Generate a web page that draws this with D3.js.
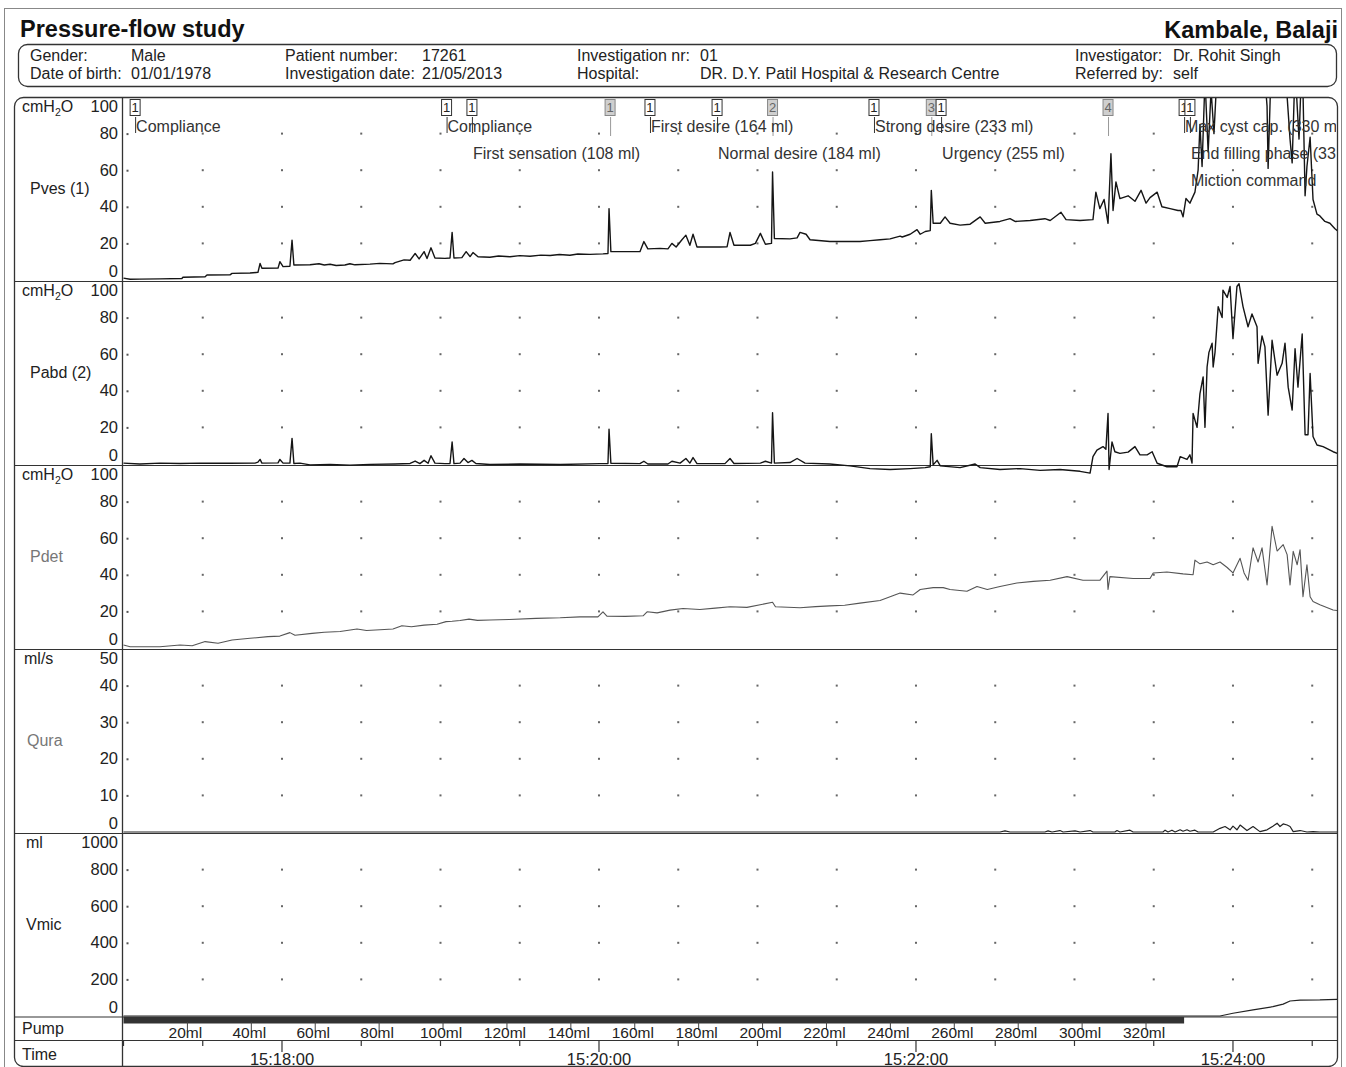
<!DOCTYPE html>
<html><head><meta charset="utf-8">
<script src="https://cdn.jsdelivr.net/npm/d3@7"></script>
<style>
body{margin:0;background:#fff}
svg{display:block}
text{font-family:"Liberation Sans",Arial,Helvetica,sans-serif}
</style>
</head><body>
<svg id="c" width="1346" height="1067"></svg>
<script>
// ---------------- DATA (time in seconds after 15:17:00) ----------------
const pvesData = [[0,1],[2.5,0.4],[6.2,0.5],[13.8,0.6],[22.1,0.8],[22.5,1.5],[30.9,1.8],[31.6,2.7],[40.3,2.8],[41.1,3.6],[47.9,3.8],[50.9,4.2],[51.7,9],[52.4,6.4],[58.5,6.5],[59.2,10],[60.4,7.3],[63.0,7.5],[63.8,21.8],[64.5,8.2],[70.6,8.3],[74.0,8.9],[76.0,8.2],[78.2,8.6],[80.5,7.9],[83.8,8.2],[85.7,8.9],[87.6,8.3],[93.3,8.7],[97.0,9.1],[102.0,8.8],[102.8,9.5],[106.2,11],[108.5,10.8],[110.4,14.5],[111.9,11.5],[113.8,15.5],[114.9,11.7],[116.4,17.6],[117.9,12],[121.7,11.8],[123.6,12],[124.4,26],[125.1,12],[128.1,12.2],[129.7,15.5],[131.2,12.8],[132.3,15],[134.2,12.7],[138.7,12.4],[142.0,13.1],[146.3,12.7],[150.0,13.3],[153.9,13],[158.0,13.6],[161.5,13.4],[165.0,13.9],[169.0,13.5],[172.0,14.2],[176.6,14],[181.5,14.3],[183.4,14.5],[183.8,39],[184.5,15.5],[195.5,15.5],[197.0,21],[198.5,17],[203.1,17.3],[206.1,17],[207.6,20],[209.2,18],[211.4,22],[212.9,24.5],[214.4,19],[215.6,25],[217.1,18],[225.8,18],[228.5,18.2],[229.6,26],[231.1,19],[237.3,19],[239.2,20],[241.1,25.5],[243.0,19.5],[245.3,20],[245.7,59],[246.4,22.7],[252.3,22.5],[255.0,23],[256.1,26],[258.4,25],[259.9,22],[267.4,21],[278.8,21],[282.6,21.5],[286.4,22],[290.2,22.5],[294.0,24],[294.8,23.5],[297.8,25],[300.4,27.5],[301.6,25],[303.5,26.5],[305.4,27],[305.8,49],[306.5,31],[309.2,31],[311.0,34.5],[312.9,31],[316.7,30],[320.5,30.5],[324.3,34.5],[326.2,31],[331.8,32],[335.6,33.5],[337.5,32],[343.2,32.5],[348.8,33.5],[350.8,32.5],[354.9,37],[356.8,33],[362.1,32.5],[367.0,33],[368.1,48],[369.6,39],[371.2,44],[372.7,31],[373.8,69],[374.6,38],[375.7,53.6],[377.2,44.5],[380.3,46],[382.9,43],[385.2,49],[387.1,42],[388.6,45],[391.3,48],[393.1,40],[396.2,39],[399.2,38],[400.3,38],[401.1,34.5],[402.2,44.5],[403.7,42],[405.6,48],[406.8,60],[407.5,85],[408.3,62],[409.4,110],[410.6,70],[411.7,104],[412.8,80],[414.4,125],[416.2,140],[418.9,145],[420.0,105],[421.5,145],[422.7,140],[425.7,112],[427.6,130],[429.5,105],[431.0,130],[432.9,95],[433.3,61],[434.8,134],[436.7,102],[439.0,112],[439.7,117],[441.6,77],[442.4,64],[443.5,116],[445.0,77],[446.2,125],[447.3,46],[448.0,62],[449.2,78],[450.3,44],[451.8,36],[452.9,35],[454.8,32],[456.7,31],[458.6,28],[459.5,27]];

const pabdData = [[0,0.5],[6.2,0],[13.8,0.5],[21.4,0.3],[29.0,0.5],[40.3,0.4],[49.8,0.5],[50.9,1],[51.7,2.5],[52.4,0.5],[58.5,0.6],[59.2,2.5],[60.4,0.5],[63.0,0.5],[63.8,14],[64.5,0.3],[66.8,0.5],[70.6,-0.5],[78.2,-0.3],[85.7,-0.6],[93.3,-0.2],[102.8,0],[108.5,0.3],[110.4,1.6],[112.2,0.2],[113.8,2],[115.3,0.4],[116.4,4.5],[117.9,0.5],[121.7,0.2],[123.6,0.3],[124.4,12],[125.1,0.2],[127.4,0.5],[128.9,3],[130.4,0.8],[131.9,2],[133.4,0.3],[138.7,-0.3],[150.1,0],[165.3,-0.3],[180.4,0.2],[183.4,0.3],[183.8,19],[184.5,0.4],[195.5,0.2],[197.0,1.5],[198.5,0],[206.1,0],[207.6,1.5],[210.7,0.5],[212.9,3],[214.4,0.5],[215.6,3.5],[217.1,0.2],[227.7,0.2],[229.6,3],[231.1,0.3],[241.1,0.5],[243.0,1.5],[245.3,0.5],[245.7,28],[246.4,0.5],[252.3,0.8],[255.0,3],[258.0,0.5],[267.4,0],[275.0,-1],[282.6,-2.5],[290.2,-3],[297.8,-2.5],[303.5,-2],[305.4,-1.5],[305.8,16.5],[306.5,-0.5],[308.0,2],[309.2,-1],[316.7,-2],[322.4,0],[324.3,-2],[331.8,-3],[339.4,-2.5],[347.0,-3.5],[354.5,-3],[362.1,-4],[365.9,-5],[367.0,4],[368.5,7.6],[370.8,9.5],[371.9,8],[372.7,27.6],[373.1,-3],[374.2,12],[375.3,6.7],[377.2,5.8],[380.3,6.5],[382.9,9.5],[384.8,5],[387.5,5],[389.4,6.7],[391.3,0.4],[395.0,-1.5],[398.8,-1.5],[400.0,4],[402.6,2.5],[403.7,5],[404.5,0.5],[404.9,27.6],[406.4,20],[407.5,38.5],[408.7,47.6],[409.4,20],[410.2,53],[410.9,61],[412.1,66],[412.5,53],[413.2,61],[414.4,86],[415.9,80],[416.2,95],[417.8,91],[418.9,97],[420.0,68.5],[421.5,97],[422.3,98.5],[423.8,86],[425.7,75],[427.2,82],[429.1,75],[429.5,55],[431.0,70],[432.1,64],[433.3,26.7],[434.8,67.6],[436.7,48.5],[438.6,55],[439.7,66],[440.9,42],[442.4,29.5],[443.5,63],[444.6,42],[446.2,71],[447.3,16],[448.4,16],[449.2,49.5],[450.3,15],[451.8,10.4],[454.1,9.5],[457.9,6.7],[459.5,5.8]];

const pdetData = [[0,1.6],[2.5,0.7],[13.8,0.7],[21.4,1.6],[26.0,1.2],[30.9,3.5],[35.8,2.6],[41.1,4.4],[47.9,5.3],[54.7,6.2],[59.2,6.5],[63.0,8.4],[64.9,7],[71.4,8],[76.0,8.6],[82.0,9],[88.4,10.4],[92.0,9.6],[97.1,10],[102.0,10.4],[105.4,12.2],[109.0,11.6],[113.8,12.5],[118.7,13],[122.1,14.4],[124.4,14.6],[127.4,15],[130.8,15.8],[134.0,15.1],[138.7,15.3],[146.0,15.6],[156.2,16.2],[165.3,16.5],[172.8,17],[179.6,17],[181.5,19.8],[183.0,17.4],[190.0,17.3],[196.7,17.6],[198.2,19.8],[202.0,19.2],[206.9,20.7],[211.8,21.6],[218.2,21],[224.0,21.8],[229.6,22.5],[236.0,22.2],[245.7,25],[246.8,22.5],[256.1,22],[262.0,22.6],[267.4,23],[273.0,23.4],[278.8,24.5],[286.4,26],[294.0,30],[298.9,29],[301.6,32],[306.5,33],[310.3,33],[312.9,32],[319.3,31],[323.1,33.6],[327.0,32],[331.8,33.6],[338.2,35.5],[344.4,36.4],[350.8,37],[357.2,39],[363.2,37],[369.6,37],[372.3,42],[372.7,32],[373.4,39],[382.2,38],[388.6,38],[389.8,41],[395.0,41.5],[401.1,40.5],[404.9,40],[405.6,48],[407.5,46],[410.2,47],[412.5,45.5],[415.1,47],[417.8,44],[420.0,41],[422.7,49],[424.2,41],[425.7,37],[427.6,54.7],[429.5,47],[431.0,54.7],[432.9,34.5],[434.8,66.5],[436.7,53],[439.0,56.5],[440.5,51],[441.6,34.5],[442.8,52.8],[444.3,45.5],[445.4,53.7],[446.5,28],[448.0,45.5],[449.2,28],[450.3,25.4],[452.9,23.6],[457.9,20.8],[459.5,20.5]];

const quraData = [[0,0],[331.8,0],[333.7,0.3],[335.6,0],[348.8,0],[350.0,0.3],[351.5,0],[354.5,0.4],[355.7,0],[360.2,0.3],[362.1,0],[365.9,0.4],[367.0,0],[375.3,0],[376.1,0.4],[377.2,0],[381.0,0.5],[382.2,0],[393.5,0],[394.3,0.5],[395.4,0],[396.9,0.5],[398.1,0],[400.0,0.6],[401.1,0.2],[402.6,0.6],[403.7,0.2],[405.6,0.5],[406.8,0],[412.5,0],[415.1,1],[417.0,1.5],[418.9,0.6],[420.0,1.6],[421.5,0.6],[422.7,1.9],[425.3,0.4],[427.6,1.5],[430.2,0.1],[432.9,0.6],[435.1,1.6],[436.7,2.4],[437.8,1.5],[439.0,2.2],[440.5,1.9],[441.6,1.5],[442.8,0.1],[445.4,0.4],[448.0,0],[450.3,0.1],[452.9,0],[459.5,0]];

const vmicData = [[0,0],[415.1,0],[420.0,15],[427.6,33],[435.1,51],[439.0,65],[441.6,82],[445.4,87],[452.9,88],[459.5,91]];

const panelNames = ["Pves (1)","Pabd (2)","Pdet","Qura","Vmic"];
const panelUnits = ["cmH2O","cmH2O","cmH2O","ml/s","ml"];
const panelMax   = [100,100,100,50,1000];
const panelTicks = [[0,20,40,60,80,100],[0,20,40,60,80,100],[0,20,40,60,80,100],[0,10,20,30,40,50],[0,200,400,600,800,1000]];
const panelSeries = [pvesData,pabdData,pdetData,quraData,vmicData];

const markerTimes  = [4.4,122.3,131.9,184.2,199.3,224.7,245.7,284.1,305.8,309.5,372.7,401.5,403.7];
const markerLabels = ["1","1","1","1","1","1","2","1","3","1","4","1","1"];
const markerKinds  = ["e","e","e","c","e","e","c","e","c","e","c","e","e"];

const eventTimes = [4.4,122.3,131.9,199.3,224.7,284.1,309.5,401.5,403.7,403.7];
const eventTexts = ["Compliance","Compliance","First sensation (108 ml)","First desire (164 ml)","Normal desire (184 ml)","Strong desire (233 ml)","Urgency (255 ml)","Max cyst cap. (330 ml)","End filling phase (330 ml)","Miction command"];

const gridTimes  = d3.range(30, 451, 30);
const timeTicks  = d3.range(0, 451, 30);
const timeLabelSec = [60,180,300,420];
const timeLabels   = ["15:18:00","15:20:00","15:22:00","15:24:00"];
const pumpTicksMl  = [20,40,60,80,100,120,140,160,180,200,220,240,260,280,300,320];
const pumpRate = 0.8267;   // ml per second
const pumpStop = 401.5;    // s

const infoLeft  = [["Gender:","Male"],["Date of birth:","01/01/1978"]];
const infoCol2  = [["Patient number:","17261"],["Investigation date:","21/05/2013"]];
const infoCol3  = [["Investigation nr:","01"],["Hospital:","DR. D.Y. Patil Hospital & Research Centre"]];
const infoCol4  = [["Investigator:","Dr. Rohit Singh"],["Referred by:","self"]];

// ---------------- DRAWING ----------------
const svg = d3.select("#c");
const frameL = 14, frameR = 1337, axisX = 122;
const x = d3.scaleLinear().domain([0,459]).range([123.5,1336]);
const panelTop = [97,281,465,649,833];
const panelH = 184;
const pumpTop = 1017, timeTop = 1040, frameB = 1066;
const FS = 16;

// page border (scan edge)
svg.append("rect").attr("x",4.5).attr("y",8.5).attr("width",1337).attr("height",1070)
  .attr("fill","none").attr("stroke","#888").attr("stroke-width",1);

// Title
svg.append("text").attr("x",20).attr("y",37).attr("font-size",23.5).attr("font-weight","bold")
  .attr("fill","#111").text("Pressure-flow study");
svg.append("text").attr("x",1338).attr("y",38).attr("font-size",23.5).attr("font-weight","bold")
  .attr("text-anchor","end").attr("fill","#111").text("Kambale, Balaji");

// info box
svg.append("rect").attr("x",18.5).attr("y",44.5).attr("width",1318).attr("height",42).attr("rx",9)
  .attr("fill","none").attr("stroke","#333").attr("stroke-width",1.3);
function infoCol(arr, xl, xv){
  arr.forEach((p,i)=>{
    const yy = 61 + i*18;
    svg.append("text").attr("x",xl).attr("y",yy).attr("font-size",FS).attr("fill","#222").text(p[0]);
    svg.append("text").attr("x",xv).attr("y",yy).attr("font-size",FS).attr("fill","#222").text(p[1]);
  });
}
infoCol(infoLeft,30,131);
infoCol(infoCol2,285,422);
infoCol(infoCol3,577,700);
infoCol(infoCol4,1075,1173);

// chart frame
svg.append("rect").attr("x",frameL+0.5).attr("y",97.5).attr("width",frameR-frameL).attr("height",frameB-97)
  .attr("rx",9).attr("fill","none").attr("stroke","#333").attr("stroke-width",1.3);
[281,465,649,833,1016.5,timeTop].forEach(yy=>{
  svg.append("line").attr("x1",frameL).attr("x2",frameR+0.5).attr("y1",yy+0.5).attr("y2",yy+0.5)
    .attr("stroke","#333").attr("stroke-width",1.2);
});
svg.append("line").attr("x1",axisX+0.5).attr("x2",axisX+0.5).attr("y1",97).attr("y2",frameB)
  .attr("stroke","#333").attr("stroke-width",1.3);

const defs = svg.append("defs");
const traceStyle = [
  {c:"#151515",w:1.4},{c:"#151515",w:1.4},{c:"#555",w:1.1},{c:"#222",w:1.2},{c:"#222",w:1.2}
];

panelNames.forEach((name,i)=>{
  const top = panelTop[i], bottom = top+panelH;
  const y = d3.scaleLinear().domain([0,panelMax[i]]).range([bottom-1, top]);
  const g = svg.append("g");
  // unit
  const ut = g.append("text").attr("x",22).attr("y",top+15).attr("font-size",FS).attr("fill","#222");
  if(panelUnits[i]==="cmH2O"){
    ut.append("tspan").text("cmH");
    ut.append("tspan").attr("font-size",10.5).attr("dy",4).text("2");
    ut.append("tspan").attr("dy",-4).text("O");
  } else {
    ut.attr("x", panelUnits[i]==="ml"?26:24).text(panelUnits[i]);
  }
  // name
  const gray = (name==="Pdet"||name==="Qura");
  g.append("text").attr("x", i>=3?(name==="Qura"?27:26):30).attr("y",top+97).attr("font-size",FS)
    .attr("fill",gray?"#777":"#222").text(name);
  // tick labels
  panelTicks[i].forEach((v,k)=>{
    let yy = y(v)+5.5;
    if(k===panelTicks[i].length-1) yy = top+15;
    if(k===0) yy = bottom-4.5;
    g.append("text").attr("x",118).attr("y",yy).attr("text-anchor","end").attr("font-size",16.5)
      .attr("fill","#222").text(v);
    if(k>0 && k<panelTicks[i].length-1){
      g.append("rect").attr("x",126.5).attr("y",y(v)-0.5).attr("width",2).attr("height",2).attr("fill","#555");
      gridTimes.forEach(t=>{
        g.append("rect").attr("x",x(t)-1).attr("y",y(v)-1).attr("width",2).attr("height",2).attr("fill","#666");
      });
    }
  });
  // clip + trace
  const cid = "clip"+i;
  defs.append("clipPath").attr("id",cid).append("rect")
    .attr("x",axisX+1).attr("y",top+1).attr("width",frameR-axisX-1).attr("height",panelH+10);
  const line = d3.line().x(d=>x(d[0])).y(d=>y(d[1]));
  g.append("path").datum(panelSeries[i]).attr("clip-path",`url(#${cid})`)
    .attr("d",line).attr("fill","none").attr("stroke",traceStyle[i].c)
    .attr("stroke-width",traceStyle[i].w).attr("stroke-linejoin","round");
});

// markers
const mg = svg.append("g");
markerTimes.forEach((t,i)=>{
  const mx = x(t);
  const cough = markerKinds[i]==="c";
  mg.append("rect").attr("x",mx-5).attr("y",99.5).attr("width",10).attr("height",16)
    .attr("fill",cough?"#cfcfcf":"#fff").attr("stroke",cough?"#888":"#333").attr("stroke-width",1);
  mg.append("text").attr("x",mx).attr("y",112).attr("text-anchor","middle").attr("font-size",13)
    .attr("fill",cough?"#666":"#222").text(markerLabels[i]);
  mg.append("line").attr("x1",mx+0.5).attr("x2",mx+0.5).attr("y1",117).attr("y2",cough?136:133)
    .attr("stroke",cough?"#999":"#333").attr("stroke-width",1);
});

// event texts (greedy rows), clipped at the plot's right edge like the reference
defs.append("clipPath").attr("id","evclip").append("rect")
  .attr("x",axisX).attr("y",97).attr("width",frameR-axisX-1).attr("height",panelH);
const eg = svg.append("g").attr("clip-path","url(#evclip)");
const rowBase = [131.5,158.5,185.5];
const rowEnds = [-1e9,-1e9,-1e9];
eventTimes.forEach((t,i)=>{
  const tx = x(t)+1;
  const txt = eg.append("text").attr("x",tx).attr("font-size",16).attr("fill","#333").text(eventTexts[i]);
  const w = txt.node().getComputedTextLength();
  let r = rowEnds.findIndex(e=>e < tx-2);
  if(r<0) r = 2;
  rowEnds[r] = tx+w;
  txt.attr("y",rowBase[r]);
});

// Pump row
svg.append("text").attr("x",22).attr("y",1034).attr("font-size",FS).attr("fill","#222").text("Pump");
svg.append("rect").attr("x",x(0)).attr("y",pumpTop).attr("width",x(pumpStop)-x(0)).attr("height",6.5).attr("fill","#333");
pumpTicksMl.forEach(ml=>{
  const px = x(ml/pumpRate);
  svg.append("line").attr("x1",px).attr("x2",px).attr("y1",pumpTop+5).attr("y2",1030).attr("stroke","#444").attr("stroke-width",1);
  svg.append("text").attr("x",px-2).attr("y",1038).attr("text-anchor","middle").attr("font-size",15.5)
    .attr("fill","#222").text(ml+"ml");
});

// Time row
svg.append("text").attr("x",22).attr("y",1060).attr("font-size",FS).attr("fill","#222").text("Time");
timeTicks.forEach(t=>{
  const major = timeLabelSec.includes(t);
  svg.append("line").attr("x1",x(t)).attr("x2",x(t)).attr("y1",timeTop+1).attr("y2",timeTop+(major?12:6))
    .attr("stroke","#333").attr("stroke-width",1.2);
});
timeLabelSec.forEach((t,i)=>{
  svg.append("text").attr("x",x(t)).attr("y",1064.5).attr("text-anchor","middle").attr("font-size",16.5)
    .attr("fill","#222").text(timeLabels[i]);
});
</script>
</body></html>
